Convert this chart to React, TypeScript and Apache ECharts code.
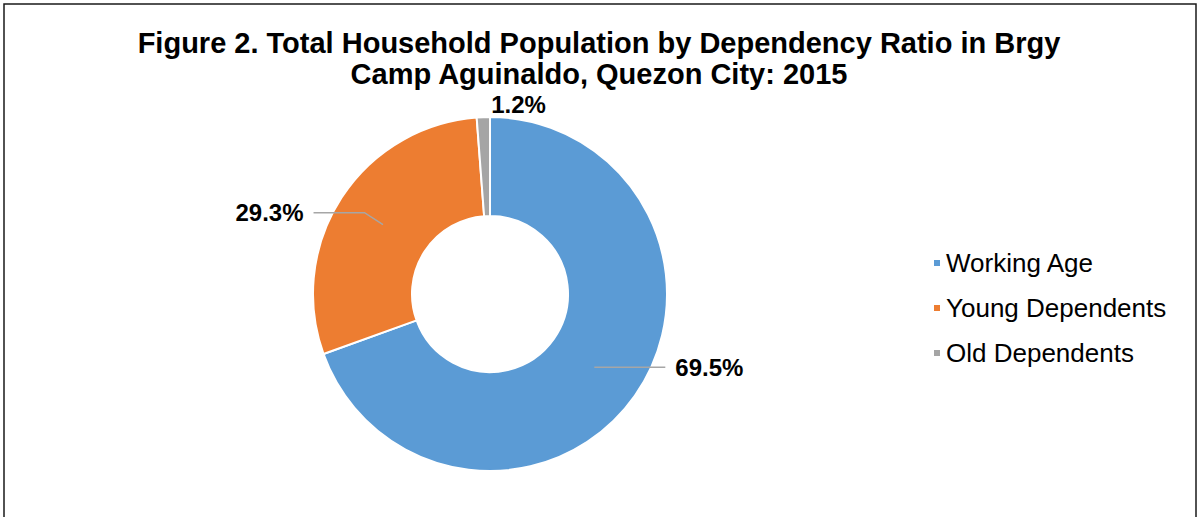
import React, { useEffect, useRef } from "react";
import * as echarts from "echarts";

const titleLines = [
  "Figure 2. Total Household Population by Dependency Ratio in Brgy",
  "Camp Aguinaldo, Quezon City: 2015",
];
const categories = ["Working Age", "Young Dependents", "Old Dependents"];
const shares = [69.5, 29.3, 1.2];
const colors = ["#5B9BD5", "#ED7D31", "#A5A5A5"];

const FONT = "'Liberation Sans', Arial, sans-serif";

export default function App() {
  const ref = useRef<HTMLDivElement>(null);
  useEffect(() => {
    if (!ref.current) return;
    const chart = echarts.init(ref.current, null, { renderer: "svg" });
    const baseData = categories.map((name, i) => ({
      name,
      value: shares[i],
      itemStyle: { color: colors[i] },
    }));
    const lineCfg = [
      { show: true, length: 0, length2: 71 },
      { show: true, length: 22, length2: 51 },
      { show: false, length: 62, length2: 0 },
    ];
    const labelData = categories.map((name, i) => ({
      name,
      value: shares[i],
      labelLine: lineCfg[i],
    }));
    chart.setOption({
      animation: false,
      backgroundColor: "#ffffff",
      title: {
        text: titleLines.join("\n"),
        left: "center",
        top: 22,
        textStyle: {
          fontFamily: FONT,
          fontWeight: "bold",
          fontSize: 29,
          lineHeight: 31.5,
          color: "#000000",
        },
      },
      legend: {
        orient: "vertical",
        left: 927,
        top: 243,
        icon: "rect",
        itemWidth: 8,
        itemHeight: 8,
        itemGap: 15,
        data: categories,
        textStyle: {
          fontFamily: FONT,
          fontSize: 26,
          lineHeight: 30,
          color: "#000000",
        },
      },
      graphic: [
        {
          type: "rect",
          shape: { x: 4, y: 4, width: 1192, height: 600 },
          style: { fill: "none", stroke: "#1a1a1a", lineWidth: 1.5 },
          silent: true,
        },
      ],
      series: [
        {
          type: "pie",
          z: 2,
          center: [490, 294],
          radius: [78, 177],
          startAngle: 90,
          clockwise: true,
          avoidLabelOverlap: false,
          label: { show: false },
          labelLine: { show: false },
          itemStyle: { borderColor: "#ffffff", borderWidth: 2 },
          data: baseData,
          silent: true,
        },
        {
          type: "pie",
          z: 5,
          center: [490, 294],
          radius: [0, 127.5],
          startAngle: 90,
          clockwise: true,
          avoidLabelOverlap: false,
          silent: true,
          itemStyle: { color: "rgba(0,0,0,0)", borderWidth: 0 },
          emphasis: { disabled: true },
          label: {
            show: true,
            position: "outside",
            formatter: (p: any) => p.value.toFixed(1) + "%",
            fontFamily: FONT,
            fontWeight: "bold",
            fontSize: 24,
            color: "#000000",
            distanceToLabelLine: 10,
          },
          labelLine: {
            show: true,
            lineStyle: { color: "#A6A6A6", width: 1.5 },
          },
          labelLayout: (params: any) =>
            params.dataIndex === 2 ? { dx: 73 } : {},
          data: labelData,
        },
      ],
    });
    return () => chart.dispose();
  }, []);
  return (
    <div
      ref={ref}
      style={{ position: "absolute", left: 0, top: 0, width: 1198, height: 517 }}
    />
  );
}
